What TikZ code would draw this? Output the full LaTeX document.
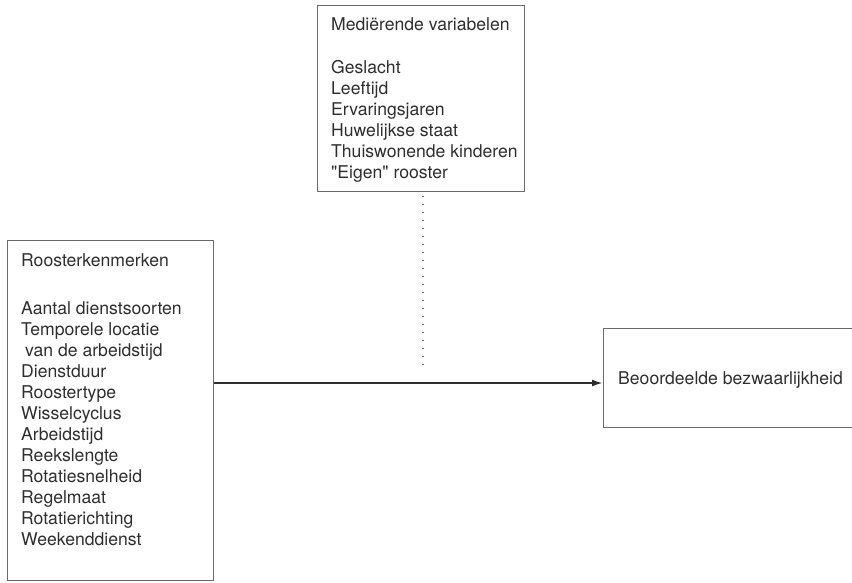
\documentclass[tikz,border=0pt]{standalone}
\usepackage{fontspec}
\setmainfont{TeX Gyre Heros}[Ligatures=TeXOff]
\usetikzlibrary{arrows.meta}
\definecolor{framegray}{gray}{0.42}
\definecolor{inkgray}{gray}{0.18}

\begin{document}
\begin{tikzpicture}[x=1pt,y=-1pt]
		\useasboundingbox (0,0) rectangle (852,582);
		\begin{scope}[every node/.style={draw=framegray,line width=1.1pt,anchor=north west,inner sep=0pt}]
			\node[minimum width=207pt,minimum height=186pt] (M) at (317,5) {};
			\node[minimum width=206pt,minimum height=340pt] (R) at (7,240) {};
			\node[minimum width=270pt,minimum height=99pt] (B) at (603,328) {};
		\end{scope}
		\begin{scope}[every node/.style={text=inkgray,anchor=north west,inner sep=0pt,align=left,
			font=\fontsize{17.6}{21}\selectfont}]
			\node (Mtekst) at (331,17) {Mediërende variabelen\\[22pt]
				Geslacht\\ Leeftijd\\ Ervaringsjaren\\ Huwelijkse staat\\
				Thuiswonende kinderen\\ "Eigen" rooster};
			\node (Rtekst) at (21,253.5) {Roosterkenmerken\\[27pt]
				Aantal dienstsoorten\\ Temporele locatie\\ \hspace*{4pt}van de arbeidstijd\\
				Dienstduur\\ Roostertype\\ Wisselcyclus\\ Arbeidstijd\\ Reekslengte\\
				Rotatiesnelheid\\ Regelmaat\\ Rotatierichting\\ Weekenddienst};
			\node (Btekst) at (618,371.5) {Beoordeelde bezwaarlijkheid};
		\end{scope}
		\coordinate (stip) at (423,367);
		\coordinate (pijl) at (0,383);
		\draw[framegray,line width=1.3pt,dash pattern=on 1.3pt off 6.7pt] (M.south -| stip) ++(0,4) -- (stip);
		\draw[-{Latex[length=11pt,width=7pt]},inkgray,line width=2pt] (R.east |- pijl) -- (B.west |- pijl);
	\end{tikzpicture}
\end{document}
